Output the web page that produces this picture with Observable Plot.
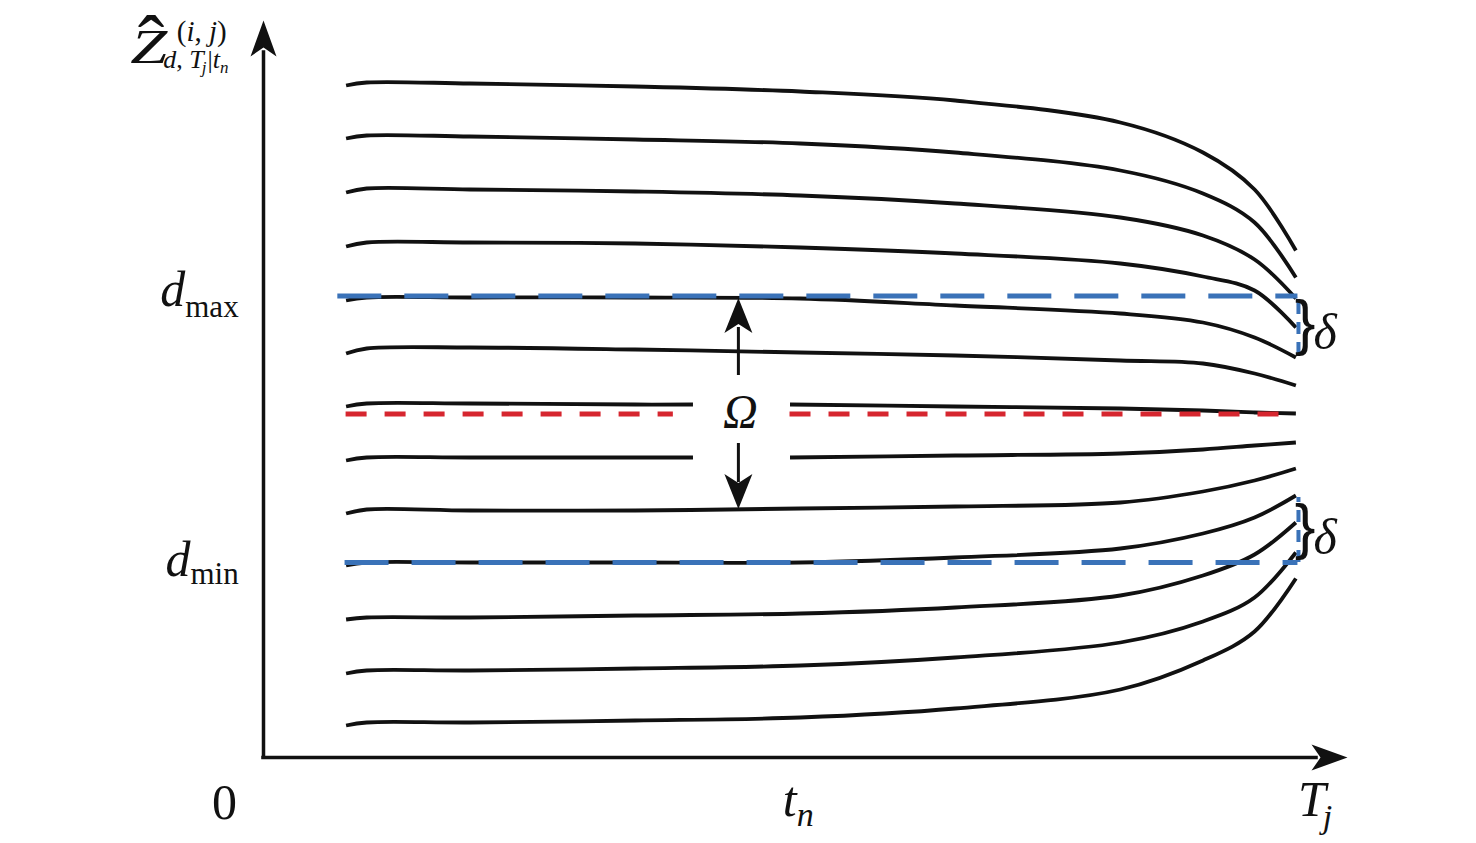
<!DOCTYPE html>
<html>
<head>
<meta charset="utf-8">
<script src="https://cdn.jsdelivr.net/npm/d3@7"></script>
<script src="https://cdn.jsdelivr.net/npm/@observablehq/plot@0.6"></script>
<style>
  html, body { margin: 0; padding: 0; background: #fff; }
  #chart { width: 1476px; height: 843px; }
</style>
</head>
<body>
<div id="chart"></div>
<script>
// ---- time positions (T_j = 100) ----
const tGrid  = [8, 10, 20, 36, 52, 67, 83, 91, 96, 100];
const tLeft  = [8, 10, 20, 36, 41.6];
const tRight = [51, 67, 83, 91, 96, 100];

// ---- predicted trajectories (value units) ----
const line1  = [67.2, 67.5, 67.4, 67.1, 66.6, 65.7, 63.5, 60.5, 56.8, 50.7];
const line2  = [61.9, 62.2, 62.1, 61.8, 61.4, 60.5, 58.7, 56.4, 53.5, 48.0];
const line3  = [56.5, 56.9, 56.8, 56.6, 56.2, 55.4, 54.0, 52.2, 49.8, 45.9];
const line4  = [51.1, 51.5, 51.5, 51.4, 51.0, 50.4, 49.4, 48.1, 46.7, 43.0];
const line5  = [45.7, 46.0, 46.0, 46.0, 45.9, 45.2, 44.4, 43.5, 42.0, 40.0];
const line6  = [40.4, 40.9, 41.0, 40.8, 40.5, 40.2, 39.7, 39.4, 38.4, 37.2];
const line7Left  = [35.1, 35.4, 35.4, 35.3, 35.3];
const line7Right = [35.3, 35.1, 34.9, 34.7, 34.5, 34.4];
const line8Left  = [29.7, 30.0, 30.0, 30.0, 30.0];
const line8Right = [30.0, 30.2, 30.4, 30.8, 31.2, 31.5];
const line9  = [24.4, 24.8, 24.7, 24.7, 24.9, 25.1, 25.5, 26.6, 27.7, 28.9];
const line10 = [19.2, 19.5, 19.5, 19.5, 19.5, 20.0, 20.9, 22.4, 24.0, 26.2];
const line11 = [13.8, 14.0, 14.0, 14.2, 14.4, 15.0, 16.2, 18.2, 20.3, 23.5];
const line12 = [ 8.4,  8.7,  8.7,  8.9,  9.2, 10.0, 11.5, 13.6, 16.0, 20.5];
const line13 = [ 3.2,  3.5,  3.5,  3.7,  4.0,  4.9,  6.8,  9.7, 12.6, 17.9];

// ---- reference levels ----
const dMax = 46.15;
const dMin = 19.5;
const centerLevel = 34.35;
const redSegments = [[8, 39.7], [51, 100]];
const dMaxSpan = [7.2, 100.2];
const dMinSpan = [7.9, 100.2];
const deltaUpper = [40.3, 46.15];
const deltaLower = [19.5, 26.0];
const omegaT = 46;

const blue = "#3a72b8";
const red = "#d6262f";
const ink = "#111";

const series = [
  {name: "L1", t: tGrid, v: line1}, {name: "L2", t: tGrid, v: line2},
  {name: "L3", t: tGrid, v: line3}, {name: "L4", t: tGrid, v: line4},
  {name: "L5", t: tGrid, v: line5}, {name: "L6", t: tGrid, v: line6},
  {name: "L7a", t: tLeft, v: line7Left}, {name: "L7b", t: tRight, v: line7Right},
  {name: "L8a", t: tLeft, v: line8Left}, {name: "L8b", t: tRight, v: line8Right},
  {name: "L9", t: tGrid, v: line9}, {name: "L10", t: tGrid, v: line10},
  {name: "L11", t: tGrid, v: line11}, {name: "L12", t: tGrid, v: line12},
  {name: "L13", t: tGrid, v: line13}
];
const rows = series.flatMap(s => s.t.map((t, i) => ({t, v: s.v[i], series: s.name})));

// ---- labels: [text, style(i/r), size, baseline offset px, dx px] ----
const labels = [
  {x: -3.78, y: -6.1, anchor: "middle", segs: [["0", "r", 50]]},
  {x: 50.3, y: -5.8, anchor: "start", segs: [["t", "i", 50], ["n", "i", 34, 10]]},
  {x: 100.2, y: -5.8, anchor: "start", segs: [["T", "i", 50], ["j", "i", 34, 12, -3]]},
  {x: -10.0, y: 45.2, anchor: "start", segs: [["d", "i", 50], ["max", "r", 31, 11]]},
  {x: -9.5, y: 18.2, anchor: "start", segs: [["d", "i", 50], ["min", "r", 31, 8]]},
  {x: 101.7, y: 40.9, anchor: "start", segs: [["δ", "i", 50]]},
  {x: 101.7, y: 20.4, anchor: "start", segs: [["δ", "i", 50]]},
  {x: 46.2, y: 33.0, anchor: "middle", segs: [["Ω", "i", 48]]},
  {x: -12.9, y: 69.5, anchor: "start", segs: [["Z", "i", 48]], len: 37},
  {x: -10.9, y: 68.7, anchor: "middle", segs: [["ˆ", "r", 80]]},
  {x: -8.4, y: 71.7, anchor: "start", segs: [["(", "r", 29], ["i", "i", 29], [", ", "r", 29], ["j", "i", 29], [")", "r", 29]]},
  {x: -9.7, y: 69.0, anchor: "start", segs: [["d", "i", 26], [", ", "r", 26], ["T", "i", 26], ["j", "i", 17, 5, -2], ["|", "r", 26, 0, 1], ["t", "i", 26], ["n", "i", 17, 5]]}
];

const arrowHead = (w, L, notch) => ({
  draw(ctx) {
    ctx.moveTo(0, 0);
    ctx.lineTo(w / 2, L);
    ctx.lineTo(0, L - notch);
    ctx.lineTo(-w / 2, L);
    ctx.closePath();
  }
});

function richRender(index, scales, values, dimensions, context, next) {
  const g = next(index, scales, values, dimensions, context);
  const texts = g.querySelectorAll("text");
  index.forEach((di, k) => {
    const el = texts[k];
    if (!el) return;
    const lab = labels[di];
    el.textContent = "";
    el.setAttribute("text-anchor", lab.anchor);
    let prev = 0;
    for (const s of lab.segs) {
      const [txt, style, size, off = 0, dx = 0] = s;
      const ts = document.createElementNS("http://www.w3.org/2000/svg", "tspan");
      ts.textContent = txt;
      ts.setAttribute("font-size", size);
      ts.setAttribute("font-style", style === "i" ? "italic" : "normal");
      if (off - prev) ts.setAttribute("dy", off - prev);
      if (dx) ts.setAttribute("dx", dx);
      prev = off;
      el.appendChild(ts);
    }
    if (lab.len) {
      el.setAttribute("textLength", lab.len);
      el.setAttribute("lengthAdjust", "spacingAndGlyphs");
    }
  });
  return g;
}

const chart = Plot.plot({
  width: 1476,
  height: 843,
  margin: 0,
  style: {background: "#fff", overflow: "visible"},
  x: {domain: [0, 105], range: [263, 1347], axis: null},
  y: {domain: [0, 73.5], range: [757, 22], axis: null},
  marks: [
    // trajectories
    Plot.line(rows, {x: "t", y: "v", z: "series", stroke: ink, strokeWidth: 3.8, curve: "catmull-rom", strokeLinecap: "butt"}),
    // center (red) dashed level
    Plot.ruleY(redSegments.map(([a, b]) => ({y: centerLevel, x1: a, x2: b})),
      {y: "y", x1: "x1", x2: "x2", stroke: red, strokeWidth: 5, strokeDasharray: "21,18"}),
    // d_max, d_min blue dashed levels
    Plot.ruleY([{y: dMax, x1: dMaxSpan[0], x2: dMaxSpan[1]}, {y: dMin, x1: dMinSpan[0], x2: dMinSpan[1]}],
      {y: "y", x1: "x1", x2: "x2", stroke: blue, strokeWidth: 5, strokeDasharray: "44,23"}),
    Plot.ruleX([{x: 100.25, y1: deltaUpper[0], y2: deltaUpper[1]}, {x: 100.25, y1: deltaLower[0], y2: deltaLower[1]}],
      {x: "x", y1: "y1", y2: "y2", stroke: blue, strokeWidth: 4, strokeDasharray: "12,8"}),
    // braces for delta
    Plot.text([{x: 99.9, y: (deltaUpper[0] + deltaUpper[1]) / 2 + 0.25}, {x: 99.9, y: (deltaLower[0] + deltaLower[1]) / 2 + 0.25}],
      {x: "x", y: "y", text: () => "}", textAnchor: "start", lineAnchor: "middle", fontSize: 62, fontFamily: "Liberation Sans", fill: ink}),
    // axes
    Plot.ruleX([{x: 0, y1: 0, y2: 70.5}], {x: "x", y1: "y1", y2: "y2", stroke: ink, strokeWidth: 3.5, strokeLinecap: "square"}),
    Plot.ruleY([{y: 0, x1: 0, x2: 102}], {y: "y", x1: "x1", x2: "x2", stroke: ink, strokeWidth: 3.5, strokeLinecap: "square"}),
    Plot.dot([{x: 0, y: 73.7}], {x: "x", y: "y", symbol: arrowHead(26, 36, 9), fill: ink, stroke: "none", r: 5}),
    Plot.dot([{x: 105, y: 0}], {x: "x", y: "y", symbol: arrowHead(26, 36, 9), fill: ink, stroke: "none", r: 5, rotate: 90}),
    // Omega arrows
    Plot.ruleX([{x: omegaT, y1: 38.2, y2: 43}, {x: omegaT, y1: 31.4, y2: 27.5}], {x: "x", y1: "y1", y2: "y2", stroke: ink, strokeWidth: 3}),
    Plot.dot([{x: omegaT, y: 45.95}], {x: "x", y: "y", symbol: arrowHead(28, 35, 9), fill: ink, stroke: "none", r: 5}),
    Plot.dot([{x: omegaT, y: 24.85}], {x: "x", y: "y", symbol: arrowHead(28, 35, 9), fill: ink, stroke: "none", r: 5, rotate: 180}),
    // labels
    Plot.text(labels, {x: "x", y: "y", text: d => d.segs.map(s => s[0]).join(""), textAnchor: "start", lineAnchor: "bottom",
      fontFamily: "Liberation Serif", fontSize: 40, fill: ink, render: richRender})
  ]
});
document.getElementById("chart").appendChild(chart);
</script>
</body>
</html>
